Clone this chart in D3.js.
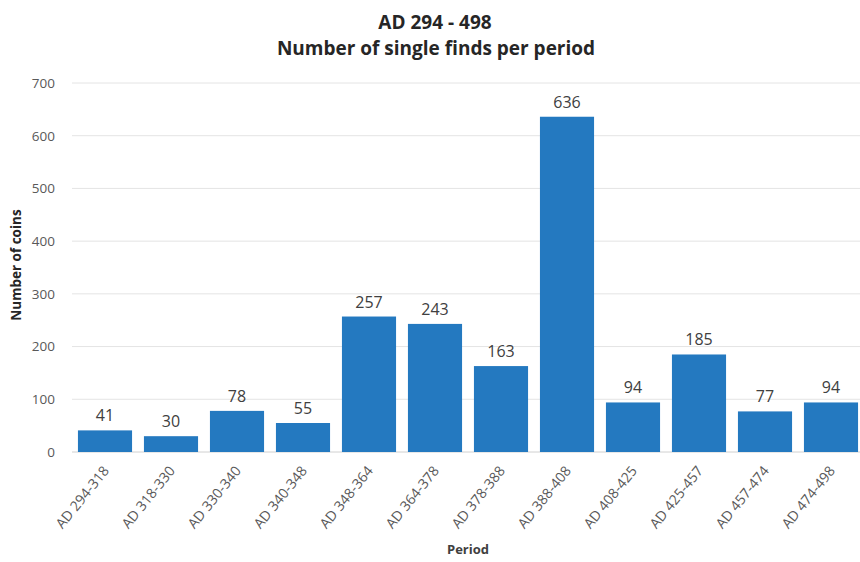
<!DOCTYPE html>
<html>
<head>
<meta charset="utf-8">
<script src="https://cdn.jsdelivr.net/npm/d3@7"></script>
<style>
  body { margin: 0; background: #fff; }
  text { font-family: "Open Sans", sans-serif; }
</style>
</head>
<body>
<div id="chart"></div>
<script>
// data
var periods = ["AD 294-318", "AD 318-330", "AD 330-340", "AD 340-348", "AD 348-364", "AD 364-378",
  "AD 378-388", "AD 388-408", "AD 408-425", "AD 425-457", "AD 457-474", "AD 474-498"];
var coins = [41, 30, 78, 55, 257, 243, 163, 636, 94, 185, 77, 94];
var yTicks = [0, 100, 200, 300, 400, 500, 600, 700];

var width = 860, height = 562;

var svg = d3.select('#chart').append('svg')
  .attr('width', width)
  .attr('height', height);

var x = d3.scaleBand().domain(periods).range([72, 864]).paddingInner(0.18).paddingOuter(0.09);
var y = d3.scaleLinear().domain([0, 700]).range([452, 83]);

//GRIDLINES
svg.append('g').selectAll('line').data(yTicks).enter().append('line')
  .attr('x1', 72).attr('x2', 860)
  .attr('y1', function(d) { return y(d); })
  .attr('y2', function(d) { return y(d); })
  .attr('stroke', function(d) { return d === 0 ? '#d0d0d0' : '#e4e4e4'; })
  .attr('stroke-width', 1);

// y axis labels
var yAxis = d3.axisLeft(y).tickValues(yTicks).tickSize(0).tickPadding(0);
var gy = svg.append('g').attr('transform', 'translate(55,0)').call(yAxis);
gy.select('.domain').remove();
gy.selectAll('text').attr('font-size', '13.5px').attr('fill', '#595959')
  .style('font-family', '"Open Sans", sans-serif');

//BARS
svg.append('g').selectAll('rect').data(coins).enter().append('rect')
  .attr('x', function(d, i) { return x(periods[i]); })
  .attr('y', function(d) { return y(d); })
  .attr('width', x.bandwidth())
  .attr('height', function(d) { return y(0) - y(d); })
  .attr('fill', '#2479c0');

// value labels
svg.append('g').selectAll('text').data(coins).enter().append('text')
  .attr('x', function(d, i) { return x(periods[i]) + x.bandwidth() / 2; })
  .attr('y', function(d) { return y(d) - 9; })
  .attr('text-anchor', 'middle')
  .attr('font-size', '16px')
  .attr('fill', '#404040')
  .text(function(d) { return d; });

// x axis labels
var xAxis = d3.axisBottom(x).tickSize(0).tickPadding(0);
var gx = svg.append('g').attr('transform', 'translate(0,' + 468 + ')').call(xAxis);
gx.select('.domain').remove();
gx.selectAll('text')
  .attr('font-size', '14px')
  .attr('fill', '#595959')
  .style('font-family', '"Open Sans", sans-serif')
  .attr('text-anchor', 'end')
  .attr('dy', '0.35em')
  .attr('transform', 'translate(1,0) rotate(-51)');

// titles
svg.append('text').attr('x', 435).attr('y', 29).attr('text-anchor', 'middle')
  .attr('font-size', '19px').attr('font-weight', 'bold').attr('fill', '#262626')
  .text('AD 294 - 498');
svg.append('text').attr('x', 436).attr('y', 55).attr('text-anchor', 'middle')
  .attr('font-size', '19px').attr('font-weight', 'bold').attr('fill', '#262626')
  .text('Number of single finds per period');

svg.append('text').attr('x', 468).attr('y', 554).attr('text-anchor', 'middle')
  .attr('font-size', '13px').attr('font-weight', 'bold').attr('fill', '#404040')
  .text('Period');

svg.append('text').attr('transform', 'translate(21,265) rotate(-90)').attr('text-anchor', 'middle')
  .attr('font-size', '13.5px').attr('font-weight', 'bold').attr('fill', '#262626')
  .text('Number of coins');
</script>
</body>
</html>
